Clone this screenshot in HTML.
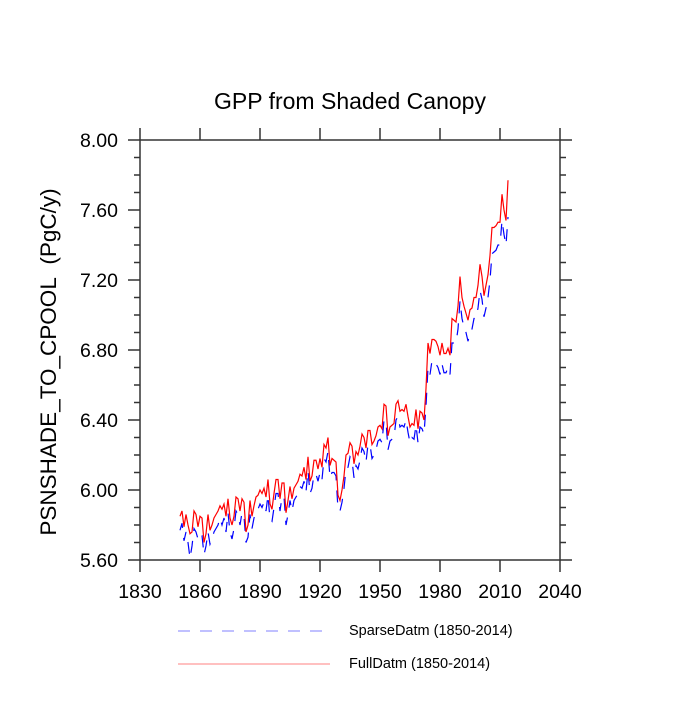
<!DOCTYPE html>
<html><head><meta charset="utf-8"><style>
body{margin:0;background:#fff;}
svg text{font-family:"Liberation Sans",sans-serif;}
</style></head><body>
<svg id="chart" width="700" height="700" viewBox="0 0 700 700" xmlns="http://www.w3.org/2000/svg">
<text x="350" y="109" font-size="23" text-anchor="middle">GPP from Shaded Canopy</text>
<text transform="translate(56,362) rotate(-90)" font-size="22.5" text-anchor="middle">PSNSHADE_TO_CPOOL&#160; (PgC/y)</text>
<rect x="140" y="140" width="420" height="420" fill="none" stroke="#333" stroke-width="1.5"/>
<g id="axes"></g>
<g id="series"></g>
<g>
<line x1="178" y1="631" x2="330" y2="631" stroke="#8080ff" stroke-width="1" stroke-dasharray="12,10"/>
<text x="349" y="635" font-size="14.5">SparseDatm (1850-2014)</text>
<line x1="178" y1="664" x2="330" y2="664" stroke="#ff8080" stroke-width="1"/>
<text x="349" y="668" font-size="14.5">FullDatm (1850-2014)</text>
</g>
</svg>
<script>
const startYear = 1850;
const fullValues = [5.85,5.88,5.79,5.86,5.80,5.75,5.76,5.88,5.86,5.79,
5.85,5.84,5.70,5.75,5.86,5.77,5.80,5.84,5.86,5.88,
5.91,5.89,5.92,5.85,5.95,5.84,5.80,5.85,5.96,5.95,
5.88,5.95,5.93,5.76,5.80,5.94,5.85,5.91,5.96,5.97,
6.00,5.98,6.01,5.96,6.06,5.92,5.89,5.98,6.06,6.06,
5.95,6.04,6.04,5.87,5.94,6.02,5.95,6.01,6.03,6.05,
6.09,6.08,6.13,6.06,6.19,6.05,6.08,6.17,6.17,6.12,
6.18,6.13,6.26,6.24,6.30,6.14,6.18,6.17,6.16,5.97,
5.94,6.00,6.08,6.20,6.21,6.27,6.25,6.15,6.22,6.20,
6.25,6.32,6.30,6.24,6.34,6.34,6.26,6.28,6.31,6.36,
6.37,6.35,6.49,6.48,6.31,6.36,6.37,6.38,6.49,6.51,
6.45,6.46,6.45,6.49,6.42,6.36,6.38,6.37,6.46,6.35,
6.45,6.44,6.40,6.58,6.84,6.78,6.86,6.86,6.85,6.82,
6.77,6.84,6.78,6.78,6.81,6.77,6.98,6.97,6.96,7.05,
7.22,7.10,7.05,7.01,6.97,7.03,7.04,7.10,7.10,7.17,
7.29,7.22,7.11,7.17,7.23,7.34,7.50,7.50,7.51,7.53,
7.53,7.69,7.60,7.54,7.77];
const sparseValues = [5.77,5.81,5.71,5.76,5.70,5.61,5.68,5.78,5.76,5.72,
5.75,5.74,5.63,5.68,5.76,5.69,5.72,5.76,5.78,5.80,
5.84,5.80,5.84,5.76,5.87,5.76,5.72,5.78,5.88,5.86,
5.80,5.87,5.85,5.70,5.73,5.86,5.78,5.84,5.88,5.89,
5.92,5.90,5.93,5.88,5.97,5.83,5.82,5.90,5.98,5.98,
5.88,5.96,5.96,5.80,5.86,5.94,5.88,5.94,5.96,5.98,
6.02,6.01,6.05,5.99,6.11,5.98,6.01,6.09,6.09,6.05,
6.10,6.06,6.18,6.16,6.22,6.07,6.10,6.10,6.08,5.89,
5.88,5.93,6.01,6.12,6.13,6.19,6.17,6.07,6.14,6.12,
6.17,6.24,6.22,6.16,6.26,6.26,6.18,6.20,6.23,6.28,
6.29,6.27,6.40,6.39,6.23,6.28,6.29,6.30,6.40,6.42,
6.36,6.37,6.36,6.40,6.33,6.27,6.30,6.29,6.37,6.27,
6.36,6.35,6.32,6.48,6.70,6.66,6.74,6.74,6.72,6.70,
6.66,6.72,6.67,6.67,6.70,6.66,6.84,6.84,6.84,6.92,
7.08,6.98,6.93,6.90,6.85,6.90,6.92,6.98,6.98,7.04,
7.14,7.09,6.99,7.04,7.10,7.20,7.35,7.36,7.37,7.40,
7.40,7.54,7.46,7.40,7.56];
const xTicks = [1830,1860,1890,1920,1950,1980,2010,2040];
const yTicks = [5.6,6.0,6.4,6.8,7.2,7.6,8.0];
const yTickLabels = ["5.60","6.00","6.40","6.80","7.20","7.60","8.00"];

const X0=140,X1=560,Y0=560,Y1=140;
const xMin=1830,xMax=2040,yMin=5.6,yMax=8.0;
function xs(v){return X0+(v-xMin)/(xMax-xMin)*(X1-X0);}
function ys(v){return Y0-(v-yMin)/(yMax-yMin)*(Y0-Y1);}
const NS="http://www.w3.org/2000/svg";
const axes=document.getElementById('axes');
function ln(x1,y1,x2,y2,name){
  const l=document.createElementNS(NS,'line');
  l.setAttribute('x1',x1);l.setAttribute('y1',y1);l.setAttribute('x2',x2);l.setAttribute('y2',y2);
  l.setAttribute('stroke','#333');l.setAttribute('stroke-width','1.5');
  
  
  axes.appendChild(l);
}
xTicks.forEach(t=>{
  const x=xs(t);
  ln(x,Y0,x,Y0+12,'x-tick');
  ln(x,Y1,x,Y1-12,'x-tick-top');
  const tx=document.createElementNS(NS,'text');
  tx.setAttribute('x',x);tx.setAttribute('y',Y0+38);tx.setAttribute('font-size','19.5');tx.setAttribute('text-anchor','middle');
  tx.textContent=t;
  
  
  axes.appendChild(tx);
});
for(let v=yMin;v<=yMax+1e-9;v+=0.1){
  const y=ys(v);
  const major=Math.abs((v-yMin)/0.4-Math.round((v-yMin)/0.4))<1e-6;
  const len=major?12:6;
  ln(X0,y,X0-len,y,'y-tick');
  ln(X1,y,X1+len,y,'y-tick-right');
}
yTicks.forEach((t,i)=>{
  const tx=document.createElementNS(NS,'text');
  tx.setAttribute('x',X0-22);tx.setAttribute('y',ys(t)+7);tx.setAttribute('font-size','19.5');tx.setAttribute('text-anchor','end');
  tx.textContent=yTickLabels[i];
  
  
  axes.appendChild(tx);
});
const series=document.getElementById('series');
function line(vals,color,dash,name){
  const p=document.createElementNS(NS,'polyline');
  p.setAttribute('points',vals.map((v,i)=>xs(startYear+i).toFixed(2)+','+ys(v).toFixed(2)).join(' '));
  p.setAttribute('fill','none');p.setAttribute('stroke',color);p.setAttribute('stroke-width','1.2');
  if(dash)p.setAttribute('stroke-dasharray',dash);
  
  
  series.appendChild(p);
}
line(sparseValues,'#0000ff','12,10','sparse-datm-line');
line(fullValues,'#ff0000',null,'full-datm-line');
</script>
</body></html>
